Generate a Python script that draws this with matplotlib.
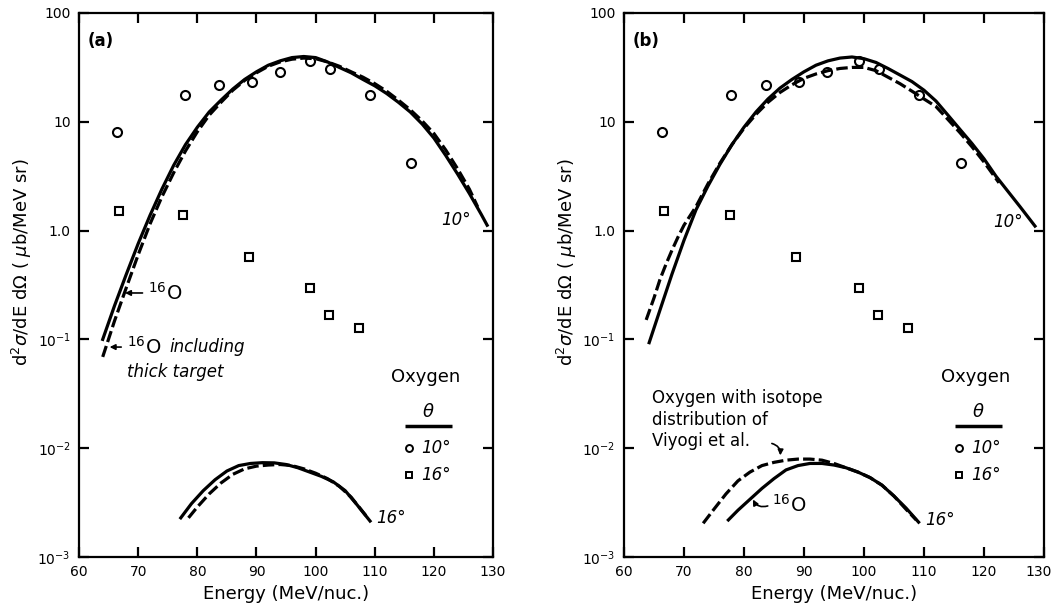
import matplotlib
matplotlib.use("Agg")
import matplotlib.pyplot as plt
import matplotlib.transforms as mtransforms
from matplotlib.ticker import NullLocator

# measured points (same in both panels)
e_10deg = [66.4, 77.9, 83.6, 89.2, 93.9, 99.1, 102.5, 109.2, 116.2]
v_10deg = [8.05, 17.6, 21.9, 23.2, 28.6, 36.0, 30.6, 17.6, 4.2]
e_16deg = [66.7, 77.6, 88.7, 99.1, 102.3, 107.4]
v_16deg = [1.51, 1.39, 0.575, 0.295, 0.166, 0.126]

# panel (a) curves
a_e_10 = [64, 66, 68, 70, 72, 74, 76, 78, 80, 82, 84, 86, 88, 90, 92, 94, 96, 98,
          100, 102, 104, 106, 108, 110, 112, 114, 116, 118, 120, 122, 124, 126, 128, 129]
a_v_10 = [0.100, 0.204, 0.398, 0.759, 1.38, 2.40, 3.98, 6.17, 8.91, 12.3, 15.8, 20.0,
          24.5, 28.8, 33.1, 36.3, 38.9, 39.8, 38.9, 35.5, 31.6, 28.2, 24.5, 21.4, 18.2,
          15.1, 12.3, 9.55, 7.08, 4.90, 3.31, 2.19, 1.41, 1.12]
a_e_10d = [64, 66, 68, 70, 72, 74, 76, 78, 80, 82, 84, 86, 88, 90, 92, 94, 96, 98,
           100, 102, 104, 106, 108, 110, 112, 114, 116, 118, 120, 122, 124, 126, 127.4]
a_v_10d = [0.069, 0.148, 0.30, 0.60, 1.15, 2.04, 3.4, 5.4, 8.1, 11.5, 15.1, 19.5,
           24.0, 28.2, 32.4, 35.5, 37.6, 38.5, 38.0, 35.5, 32.4, 28.8, 25.7, 22.4, 19.1,
           15.8, 12.9, 10.2, 7.8, 5.5, 3.7, 2.4, 1.65]
a_e_16 = [77.2, 79, 81, 83, 85, 87, 89, 91, 93, 95, 97, 99, 101, 103, 105, 107, 109.2]
a_v_16 = [0.00229, 0.00309, 0.00407, 0.00513, 0.00617, 0.00692, 0.00724, 0.00736,
          0.00733, 0.00708, 0.00661, 0.00603, 0.00550, 0.00490, 0.00407, 0.00302, 0.00214]
a_e_16d = [78.5, 80, 82, 84, 86, 88, 90, 92, 94, 96, 98, 100, 102, 104, 106, 108.5]
a_v_16d = [0.00229, 0.00288, 0.0038, 0.00479, 0.00575, 0.00646, 0.00684, 0.0070,
           0.00708, 0.00692, 0.00646, 0.00589, 0.00525, 0.00447, 0.00355, 0.0024]

# panel (b) curves
b_e_10 = [64.2, 66, 68, 70, 72, 74, 76, 78, 80, 82, 84, 86, 88, 90, 92, 94, 96, 98,
          100, 102, 104, 106, 108, 110, 112, 114, 116, 118, 120, 122, 124, 126, 128.5]
b_v_10 = [0.0933, 0.186, 0.398, 0.813, 1.55, 2.57, 4.07, 6.17, 8.91, 12.3, 16.2, 20.4,
          24.5, 28.8, 33.1, 36.3, 38.5, 39.4, 38.0, 35.1, 30.9, 26.9, 23.4, 19.5, 15.5,
          11.5, 8.51, 6.31, 4.57, 3.16, 2.29, 1.66, 1.10]
b_e_10d = [63.7, 65, 66, 67, 68, 69, 70, 72, 74, 76, 78, 80, 82, 84, 86, 88, 90, 92, 94,
           96, 98, 100, 102, 104, 106, 108, 110, 112, 114, 116, 118, 120, 122.5]
b_v_10d = [0.151, 0.24, 0.355, 0.49, 0.66, 0.87, 1.12, 1.66, 2.69, 4.17, 6.17, 8.71,
           11.7, 15.1, 18.6, 21.9, 25.1, 27.5, 29.5, 30.9, 31.6, 31.6, 29.5, 25.7, 22.4,
           19.1, 16.2, 13.8, 10.5, 7.94, 5.89, 4.27, 2.75]
b_e_16 = [77.4, 79, 81, 83, 85, 87, 89, 91, 93, 95, 97, 99, 101, 103, 105, 107, 109.1]
b_v_16 = [0.00219, 0.00269, 0.00339, 0.00427, 0.00525, 0.00631, 0.00692, 0.00724,
          0.00724, 0.0070, 0.00661, 0.00603, 0.00537, 0.00457, 0.00363, 0.00282, 0.00209]
b_e_16d = [73.2, 75, 77, 79, 81, 83, 85, 87, 89, 91, 93, 95, 97, 99, 101, 103, 105, 107, 108.7]
b_v_16d = [0.00204, 0.00275, 0.0038, 0.00501, 0.00603, 0.00692, 0.00741, 0.00776,
           0.00794, 0.00794, 0.00776, 0.00724, 0.00661, 0.00603, 0.00537, 0.00457,
           0.00363, 0.00275, 0.00219]

x_ticks = [60, 70, 80, 90, 100, 110, 120, 130]
y_ticks = [1e-3, 1e-2, 1e-1, 1, 10, 100]
y_labels = ["10$^{-3}$", "10$^{-2}$", "10$^{-1}$", "1.0", "10", "100"]

LW = 2.3
DASH = (3.6, 1.3)

fig = plt.figure(figsize=(10.54, 6.09), dpi=100)
ax_a = fig.add_axes([0.075, 0.0854, 0.3928, 0.8933])
ax_b = fig.add_axes([0.592, 0.0854, 0.3985, 0.8933])


def setup(ax, tag):
    ax.set_yscale("log")
    ax.set_xlim(60, 130)
    ax.set_ylim(1e-3, 100)
    ax.set_xticks(x_ticks)
    ax.set_yticks(y_ticks)
    ax.set_yticklabels(y_labels)
    ax.yaxis.set_minor_locator(NullLocator())
    ax.tick_params(direction="in", length=7, width=1.6, top=True, right=True,
                   labelsize=10, pad=6)
    for s in ax.spines.values():
        s.set_linewidth(1.6)
    ax.set_xlabel("Energy (MeV/nuc.)", fontsize=13, labelpad=4)
    ax.text(0.02, 0.965, tag, transform=ax.transAxes, fontsize=12,
            fontweight="bold", va="top")
    # data points
    ax.plot(e_10deg, v_10deg, "o", ms=6.5, mfc="white", mec="black", mew=1.5)
    ax.plot(e_16deg, v_16deg, "s", ms=6, mfc="white", mec="black", mew=1.5)
    # legend
    ax.text(0.838, 0.33, "Oxygen", transform=ax.transAxes, fontsize=13,
            ha="center", va="center")
    ax.text(0.843, 0.266, r"$\theta$", transform=ax.transAxes, fontsize=13,
            ha="center", va="center", fontweight="bold")
    ax.plot([0.787, 0.900], [0.241, 0.241], color="black", lw=2.5,
            transform=ax.transAxes, solid_capstyle="butt")
    ax.plot([0.797], [0.200], "o", ms=5, mfc="white", mec="black", mew=1.4,
            transform=ax.transAxes)
    ax.plot([0.797], [0.151], "s", ms=5, mfc="white", mec="black", mew=1.4,
            transform=ax.transAxes)
    ax.text(0.826, 0.200, "10°", transform=ax.transAxes, fontsize=12,
            style="italic", va="center")
    ax.text(0.826, 0.151, "16°", transform=ax.transAxes, fontsize=12,
            style="italic", va="center")


setup(ax_a, "(a)")
setup(ax_b, "(b)")

# keep the last "130" label inside the figure
last = ax_b.get_xticklabels()[-1]
last.set_transform(last.get_transform() +
                   mtransforms.ScaledTranslation(-5 / 100, 0, fig.dpi_scale_trans))

# panel (a)
ax_a.plot(a_e_10, a_v_10, "-", color="black", lw=LW)
ax_a.plot(a_e_10d, a_v_10d, "--", color="black", lw=LW, dashes=DASH)
ax_a.plot(a_e_16, a_v_16, "-", color="black", lw=LW)
ax_a.plot(a_e_16d, a_v_16d, "--", color="black", lw=LW, dashes=DASH)
ax_a.text(121.3, 1.25, "10°", fontsize=12, style="italic", va="center")
ax_a.text(110.3, 0.0023, "16°", fontsize=12, style="italic", va="center")
ax_a.annotate("", xy=(67.3, 0.267), xytext=(71.2, 0.267),
              arrowprops=dict(arrowstyle="-|>", color="black", lw=1.2,
                              mutation_scale=8))
ax_a.text(71.6, 0.267, r"$^{16}$O", fontsize=14, va="center")
ax_a.annotate("", xy=(64.7, 0.085), xytext=(67.6, 0.085),
              arrowprops=dict(arrowstyle="-|>", color="black", lw=1.2,
                              mutation_scale=8))
ax_a.text(68.1, 0.085, r"$^{16}$O", fontsize=14, va="center")
ax_a.text(75.2, 0.085, "including", fontsize=12, style="italic", va="center")
ax_a.text(68.1, 0.05, "thick target", fontsize=12, style="italic", va="center")

# panel (b)
ax_b.plot(b_e_10, b_v_10, "-", color="black", lw=LW)
ax_b.plot(b_e_10d, b_v_10d, "--", color="black", lw=LW, dashes=DASH)
ax_b.plot(b_e_16, b_v_16, "-", color="black", lw=LW)
ax_b.plot(b_e_16d, b_v_16d, "--", color="black", lw=LW, dashes=DASH)
ax_b.text(121.5, 1.2, "10°", fontsize=12, style="italic", va="center")
ax_b.text(110.2, 0.0022, "16°", fontsize=12, style="italic", va="center")
ax_b.text(64.7, 0.0182, "Oxygen with isotope\ndistribution of\nViyogi et al.",
          fontsize=12, va="center", linespacing=1.25)
ax_b.annotate("", xy=(86.0, 0.0081), xytext=(84.2, 0.0112),
              arrowprops=dict(arrowstyle="-|>", color="black", lw=1.2,
                              mutation_scale=8,
                              connectionstyle="arc3,rad=-0.5"))
ax_b.annotate("", xy=(81.3, 0.00356), xytext=(84.4, 0.0030),
              arrowprops=dict(arrowstyle="-|>", color="black", lw=1.2,
                              mutation_scale=8,
                              connectionstyle="arc3,rad=-0.5"))
ax_b.text(84.6, 0.0030, r"$^{16}$O", fontsize=14, va="center")

ylab = r"d$^2\sigma$/dE d$\Omega$ ( $\mu$b/MeV sr)"
fig.text(0.021, 0.57, ylab, rotation=90, fontsize=13, ha="center", va="center")
fig.text(0.538, 0.57, ylab, rotation=90, fontsize=13, ha="center", va="center")

fig.savefig("out.png", dpi=100)
